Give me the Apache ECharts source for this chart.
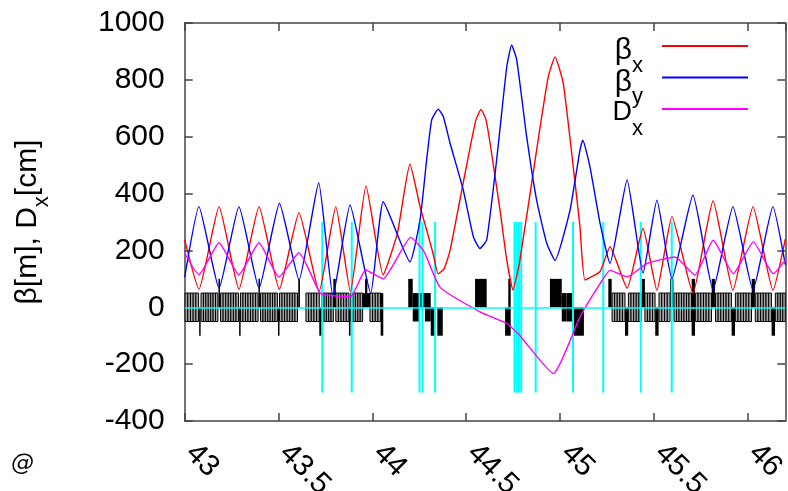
<!DOCTYPE html>
<html>
<head>
<meta charset="utf-8">
<script src="https://cdn.jsdelivr.net/npm/echarts@6/dist/echarts.min.js"></script>
<style>
  html, body { margin: 0; padding: 0; background: #fff; }
  #chart { width: 788px; height: 491px; }
</style>
</head>
<body>
<div id="chart"></div>
<script>
// Lattice optics: beta functions [m] and horizontal dispersion [cm] vs. position s [km]
const betaX = [
  [43.000, 237], [43.076, 63], [43.183, 354], [43.289, 63], [43.396, 354], [43.504, 63],
  [43.609, 333], [43.716, 55], [43.805, 354], [43.883, 55], [43.966, 427], [44.057, 114],
  [44.133, 260], [44.200, 504], [44.254, 354], [44.289, 272], [44.323, 190], [44.350, 118],
  [44.382, 135], [44.414, 200], [44.467, 380], [44.520, 560], [44.552, 660], [44.579, 696],
  [44.605, 660], [44.627, 577], [44.680, 342], [44.716, 166], [44.749, 61], [44.786, 166],
  [44.875, 553], [44.937, 811], [44.973, 881], [45.017, 788], [45.070, 495], [45.106, 283],
  [45.133, 96], [45.213, 126], [45.266, 213], [45.357, 67], [45.442, 278], [45.516, 60],
  [45.596, 319], [45.708, 50], [45.815, 375], [45.921, 60], [46.028, 354], [46.134, 60],
  [46.200, 240]
];
const betaY = [
  [43.000, 106], [43.076, 354], [43.183, 67], [43.289, 354], [43.396, 67], [43.505, 366],
  [43.609, 96], [43.714, 438], [43.790, 40], [43.881, 360], [43.991, 49], [44.058, 371],
  [44.200, 160], [44.254, 307], [44.289, 518], [44.316, 659], [44.351, 697], [44.378, 670],
  [44.414, 577], [44.484, 413], [44.538, 248], [44.573, 207], [44.609, 237], [44.662, 518],
  [44.716, 846], [44.742, 923], [44.769, 870], [44.822, 600], [44.875, 377], [44.929, 225],
  [44.973, 165], [45.053, 342], [45.106, 553], [45.121, 588], [45.159, 495], [45.213, 296],
  [45.266, 154], [45.357, 448], [45.442, 120], [45.516, 377], [45.596, 100], [45.708, 395],
  [45.815, 61], [45.921, 354], [46.028, 61], [46.134, 354], [46.200, 150]
];
const dispX = [
  [43.000, 190], [43.076, 114], [43.183, 227], [43.289, 114], [43.396, 227], [43.502, 106],
  [43.609, 192], [43.716, 55], [43.742, 43], [43.884, 38], [43.964, 131], [44.057, 100],
  [44.204, 246], [44.275, 196], [44.360, 71], [44.573, -16], [44.716, -57], [44.777, -93],
  [44.964, -233], [45.106, -34], [45.213, 83], [45.266, 130], [45.357, 107], [45.463, 154],
  [45.612, 177], [45.719, 113], [45.816, 236], [45.923, 118], [46.030, 230], [46.136, 118],
  [46.200, 166]
];

// Magnet layout: bend strings [start, end, number of dipoles]
const bendStrings = [
  [43.002, 43.074, 5], [43.087, 43.177, 7], [43.191, 43.287, 7], [43.297, 43.391, 7],
  [43.404, 43.494, 7], [43.505, 43.601, 7], [43.646, 43.717, 5], [43.730, 43.792, 5],
  [43.805, 43.875, 5], [43.884, 43.948, 5], [43.987, 44.044, 4],
  [45.277, 45.346, 5], [45.364, 45.434, 5], [45.452, 45.506, 4], [45.527, 45.586, 4],
  [45.607, 45.700, 7], [45.721, 45.807, 6], [45.828, 45.913, 6], [45.934, 46.020, 6],
  [46.040, 46.126, 6], [46.147, 46.200, 4]
];
// focusing quadrupoles [start, end]
const quadsF = [
  [43.180, 43.188], [43.393, 43.401], [43.605, 43.614], [43.792, 43.805], [43.961, 43.973],
  [44.191, 44.215], [44.547, 44.609], [44.724, 44.737], [44.946, 45.009], [45.257, 45.275],
  [45.435, 45.452], [45.586, 45.604], [45.701, 45.719], [45.808, 45.825], [46.021, 46.038]
];
// defocusing quadrupoles [start, end]
const quadsD = [
  [43.077, 43.085], [43.290, 43.298], [43.497, 43.505], [43.717, 43.730], [43.875, 43.884],
  [44.044, 44.058], [44.311, 44.334], [44.346, 44.375], [44.707, 44.737], [45.070, 45.127],
  [45.346, 45.363], [45.507, 45.525], [45.701, 45.719], [45.914, 45.932], [46.127, 46.145]
];
// solid dipole blocks [start, end, top, bottom]
const solidBlocks = [
  [43.948, 43.987, 50, 0], [44.040, 44.058, 50, 0], [44.215, 44.250, 50, -50],
  [44.250, 44.280, 50, 0], [44.280, 44.311, 50, -50], [45.009, 45.035, 50, -50],
  [45.035, 45.070, 50, -50]
];
// markers
const markers = [
  43.733, 43.890, 44.251, 44.267, 44.334, 44.757, 44.769, 44.781, 44.793,
  44.870, 45.069, 45.230, 45.430, 45.595
];

const BEND_HALF = 50, QUAD_H = 100, MARKER_HALF = 300;
const FONT = '"Liberation Sans", Arial, sans-serif';

const chart = echarts.init(document.getElementById('chart'));

function bendRender(params, api) {
  const n = api.value(2);
  const p0 = api.coord([api.value(0), BEND_HALF]);
  const p1 = api.coord([api.value(1), -BEND_HALF]);
  const w = (p1[0] - p0[0]) / n;
  const children = [];
  for (let i = 0; i < n; i++) {
    children.push({
      type: 'rect',
      shape: { x: p0[0] + i * w, y: p0[1], width: w, height: p1[1] - p0[1] },
      style: { fill: '#a8a8a8', stroke: '#000', lineWidth: 1 }
    });
  }
  return { type: 'group', children };
}
function quadRender(sign) {
  return function (params, api) {
    const p0 = api.coord([api.value(0), sign > 0 ? QUAD_H : 0]);
    const p1 = api.coord([api.value(1), sign > 0 ? 0 : -QUAD_H]);
    return {
      type: 'rect',
      shape: { x: p0[0], y: p0[1], width: Math.max(1, p1[0] - p0[0]), height: p1[1] - p0[1] },
      style: { fill: '#000' }
    };
  };
}
function blockRender(params, api) {
  const p0 = api.coord([api.value(0), api.value(2)]);
  const p1 = api.coord([api.value(1), api.value(3)]);
  return {
    type: 'rect',
    shape: { x: p0[0], y: p0[1], width: p1[0] - p0[0], height: p1[1] - p0[1] },
    style: { fill: '#000' }
  };
}
function markerRender(params, api) {
  const p0 = api.coord([api.value(0), MARKER_HALF]);
  const p1 = api.coord([api.value(0), -MARKER_HALF]);
  return {
    type: 'line',
    shape: { x1: p0[0], y1: p0[1], x2: p1[0], y2: p1[1] },
    style: { stroke: '#00ffff', lineWidth: 2 }
  };
}

const axisLineStyle = { color: '#444', width: 1.5 };
const legendNames = { 'βx': '{g|β}{s|x}', 'βy': '{g|β}{s|y}', 'Dx': '{d|D}{s|x}' };

chart.setOption({
  animation: false,
  backgroundColor: '#fff',
  grid: { left: 184.7, right: 2.7, top: 23, bottom: 70, containLabel: false, outerBoundsMode: 'none' },
  legend: {
    orient: 'vertical',
    align: 'right',
    right: 40,
    top: 36,
    padding: 0,
    itemGap: -9,
    itemWidth: 86,
    itemHeight: 2,
    icon: 'rect',
    data: ['βx', 'βy', 'Dx'],
    formatter: n => legendNames[n],
    textStyle: {
      fontFamily: FONT,
      color: '#000',
      padding: [0, 14, 0, 0],
      rich: {
        g: { fontFamily: FONT, fontSize: 30, lineHeight: 20, verticalAlign: 'top', color: '#000' },
        d: { fontFamily: FONT, fontSize: 27, lineHeight: 20, verticalAlign: 'top', color: '#000' },
        s: { fontFamily: FONT, fontSize: 22, lineHeight: 10, padding: [18.5, 0, 0, 0], verticalAlign: 'top', color: '#000' }
      }
    }
  },
  xAxis: [{
    type: 'value', min: 43, max: 46.2, interval: 0.5, position: 'bottom',
    axisLine: { show: true, onZero: false, lineStyle: axisLineStyle },
    axisTick: { show: true, inside: true, length: 8, lineStyle: axisLineStyle },
    splitLine: { show: false },
    axisLabel: {
      rotate: -45, margin: 22, padding: [0, 0, 0, 8], fontFamily: FONT, fontSize: 30, color: '#000',
      showMaxLabel: false,
      formatter: v => (Math.abs(v * 2 - Math.round(v * 2)) < 1e-6 ? String(v) : '')
    }
  }, {
    type: 'value', min: 43, max: 46.2, interval: 0.5, position: 'top',
    axisLine: { show: true, onZero: false, lineStyle: axisLineStyle },
    axisTick: { show: true, inside: true, length: 8, lineStyle: axisLineStyle },
    splitLine: { show: false }, axisLabel: { show: false }
  }],
  yAxis: [{
    type: 'value', min: -400, max: 1000, interval: 200, position: 'left',
    axisLine: { show: true, onZero: false, lineStyle: axisLineStyle },
    axisTick: { show: true, inside: true, length: 8, lineStyle: axisLineStyle },
    splitLine: { show: false },
    axisLabel: { margin: 20, fontFamily: FONT, fontSize: 30, color: '#000', formatter: v => String(v) },
    name: '{g|β}{m|[m], D}{s|x}{m|[cm]}',
    nameLocation: 'middle',
    nameGap: 152,
    nameTextStyle: {
      rich: {
        g: { fontFamily: FONT, fontSize: 30, lineHeight: 20, verticalAlign: 'top', color: '#000' },
        m: { fontFamily: FONT, fontSize: 30, lineHeight: 20, verticalAlign: 'top', color: '#000' },
        s: { fontFamily: FONT, fontSize: 22, lineHeight: 10, padding: [18.5, 0, 0, 0], verticalAlign: 'top', color: '#000' }
      }
    }
  }, {
    type: 'value', min: -400, max: 1000, interval: 200, position: 'right',
    axisLine: { show: true, onZero: false, lineStyle: axisLineStyle },
    axisTick: { show: true, inside: true, length: 8, lineStyle: axisLineStyle },
    splitLine: { show: false }, axisLabel: { show: false }
  }],
  graphic: [{
    type: 'text', left: 11, top: 453,
    style: { text: '@', font: 'italic 23px "DejaVu Sans"', fill: '#000' }
  }],
  series: [
    {
      type: 'custom', name: 'bends', renderItem: bendRender, data: bendStrings, z: 1, clip: true,
      silent: true,
      markLine: {
        silent: true, symbol: 'none', label: { show: false },
        lineStyle: { color: '#00ffff', width: 1.5, type: 'solid' },
        data: [{ yAxis: 0 }]
      }
    },
    { type: 'custom', name: 'qf', renderItem: quadRender(1), data: quadsF, z: 1, clip: true, silent: true },
    { type: 'custom', name: 'qd', renderItem: quadRender(-1), data: quadsD, z: 1, clip: true, silent: true },
    { type: 'custom', name: 'blocks', renderItem: blockRender, data: solidBlocks, z: 1, clip: true, silent: true },
    { type: 'custom', name: 'markers', renderItem: markerRender, data: markers.map(s => [s]), z: 2, clip: true, silent: true },
    {
      type: 'line', name: 'βx', data: betaX, showSymbol: false, smooth: 0.15, z: 3,
      color: '#ff0000', lineStyle: { width: 1.4, color: '#ff0000' }
    },
    {
      type: 'line', name: 'βy', data: betaY, showSymbol: false, smooth: 0.15, z: 3,
      color: '#0000ff', lineStyle: { width: 1.4, color: '#0000ff' }
    },
    {
      type: 'line', name: 'Dx', data: dispX, showSymbol: false, smooth: 0.15, z: 3,
      color: '#ff00ff', lineStyle: { width: 1.4, color: '#ff00ff' }
    }
  ]
});
</script>
</body>
</html>
